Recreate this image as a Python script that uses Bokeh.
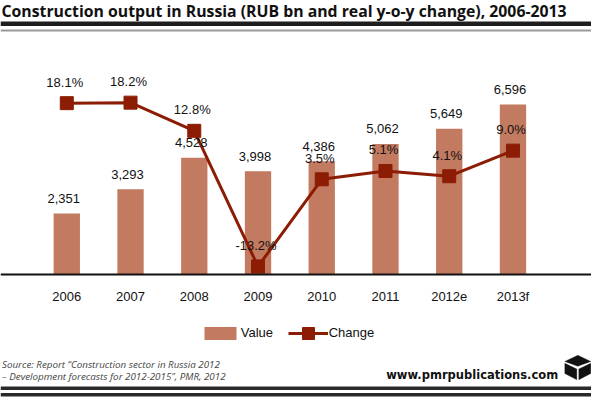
from bokeh.plotting import figure
from bokeh.models import (ColumnDataSource, Range1d, FixedTicker, Label, BoxAnnotation,
                          PolyAnnotation, Legend, LegendItem)
from bokeh.core.properties import value
from bokeh.embed import file_html
from bokeh.resources import INLINE

# ---- data ----
categories = ["2006", "2007", "2008", "2009", "2010", "2011", "2012e", "2013f"]
output_values = [2351, 3293, 4528, 3998, 4386, 5062, 5649, 6596]
change_pct = [18.1, 18.2, 12.8, -13.2, 3.5, 5.1, 4.1, 9.0]
title_text = "Construction output in Russia (RUB bn and real y-o-y change), 2006-2013"
source_line1 = "Source: Report \u201cConstruction sector in Russia 2012"
source_line2 = "\u2013 Development forecasts for 2012-2015\u201d, PMR, 2012"
brand_text = "www.pmrpublications.com"

BAR_COLOR = "#C27A61"
LINE_COLOR = "#8C1C04"
TXT = "#111111"

W, H = 591, 398


def sy(page_y):
    # page y (from top) -> screen units (frame relative, upwards)
    return H - page_y


src = ColumnDataSource(dict(
    x=list(range(len(categories))),
    value=output_values,
    change=change_pct,
    vlabel=[f"{v:,}" for v in output_values],
    clabel=[f"{c:.1f}%" for c in change_pct],
))

p = figure(width=W, height=H, output_backend="svg", toolbar_location=None,
           x_range=Range1d(-1.040, 8.232), y_range=Range1d(-4844, 10642),
           y_axis_location=None, min_border=0, min_border_left=0, min_border_right=0,
           min_border_top=0, min_border_bottom=0)
p.outline_line_color = None
p.background_fill_color = "white"
p.border_fill_color = "white"
p.xgrid.visible = False
p.ygrid.visible = False
p.extra_y_ranges = {"chg": Range1d(-38.51, 37.78)}

bars = p.vbar(x="x", top="value", width=0.413, source=src,
              fill_color=BAR_COLOR, line_color=None)
line_r = p.line(x="x", y="change", source=src, y_range_name="chg",
                line_color=LINE_COLOR, line_width=3)
sq_r = p.scatter(x="x", y="change", source=src, y_range_name="chg", marker="square",
                 size=13, fill_color=LINE_COLOR, line_color=LINE_COLOR)

p.text(x="x", y="value", text="vlabel", source=src, text_align="center",
       text_baseline="alphabetic", x_offset=-3, y_offset=-15,
       text_font=value("Liberation Sans"), text_font_size="13px", text_color=TXT)
p.text(x="x", y="change", text="clabel", source=src, y_range_name="chg",
       text_align="center", text_baseline="alphabetic", x_offset=-2, y_offset=-21,
       text_font=value("Liberation Sans"), text_font_size="13px", text_color=TXT)

ax = p.xaxis[0]
ax.fixed_location = 0
ax.ticker = FixedTicker(ticks=list(range(len(categories))))
ax.major_label_overrides = {i: c for i, c in enumerate(categories)}
ax.major_tick_line_color = None
ax.minor_tick_line_color = None
ax.major_tick_out = 0
ax.major_tick_in = 0
ax.minor_tick_out = 0
ax.axis_line_color = "#111111"
ax.axis_line_width = 2
ax.major_label_standoff = 15
ax.major_label_text_font = "Liberation Sans"
ax.major_label_text_font_size = "13px"
ax.major_label_text_color = TXT

# legends
leg_common = dict(orientation="horizontal", label_standoff=1, padding=0, margin=0,
                  border_line_color=None, background_fill_alpha=0,
                  label_text_font="Liberation Sans", label_text_font_size="13px",
                  label_text_color=TXT, glyph_width=40)
leg1 = Legend(items=[LegendItem(label="Value", renderers=[bars])],
              location=(199.8, sy(340.5)), glyph_height=16, label_height=16, **leg_common)
leg2 = Legend(items=[LegendItem(label="Change", renderers=[line_r, sq_r])],
              location=(287.7, sy(347.5)), glyph_height=30, label_height=30, **leg_common)
p.add_layout(leg1, "center")
p.add_layout(leg2, "center")

# title
p.add_layout(Label(x=1, y=sy(10.5), x_units="screen", y_units="screen", text=title_text,
                   text_font="Open Sans", text_font_style="bold", text_font_size="15.8px",
                   text_baseline="alphabetic", text_color=TXT))


def rule(y0, y1, color):
    p.add_layout(BoxAnnotation(left=0, right=W, top=sy(y0), bottom=sy(y1),
                               left_units="screen", right_units="screen",
                               top_units="screen", bottom_units="screen",
                               fill_color=color, fill_alpha=1, line_color=None))


rule(21, 25.5, "#1e1e1e")
rule(29, 31, "#9a9a9a")
rule(386, 389.5, "#2a2a2a")
rule(392.5, 396, "#2a2a2a")

# footer texts
p.add_layout(Label(x=1.5, y=sy(363.5), x_units="screen", y_units="screen", text=source_line1,
                   text_font="Open Sans", text_font_style="italic", text_font_size="9.8px",
                   text_baseline="alphabetic", text_color="#444444"))
p.add_layout(Label(x=1.5, y=sy(376), x_units="screen", y_units="screen", text=source_line2,
                   text_font="Open Sans", text_font_style="italic", text_font_size="9.8px",
                   text_baseline="alphabetic", text_color="#444444"))
p.add_layout(Label(x=385.7, y=sy(374.5), x_units="screen", y_units="screen", text=brand_text,
                   text_font="DejaVu Sans", text_font_style="bold", text_font_size="11.5px",
                   text_baseline="alphabetic", text_color=TXT))

# logo (cube)
faces = [
    [(577.3, 354.7), (590.3, 360.9), (577.3, 365.8), (564.3, 360.9)],
    [(564.3, 362.7), (576.3, 368.5), (576.3, 379.3), (564.3, 373.1)],
    [(590.3, 362.7), (578.3, 368.5), (578.3, 379.3), (590.3, 373.1)],
]
for f in faces:
    p.add_layout(PolyAnnotation(xs=[a for a, b in f], ys=[sy(b) for a, b in f],
                                xs_units="screen", ys_units="screen",
                                fill_color="#111111", fill_alpha=1, line_color="#111111",
                                line_width=1))

open("out.html", "w").write(file_html(p, INLINE))
